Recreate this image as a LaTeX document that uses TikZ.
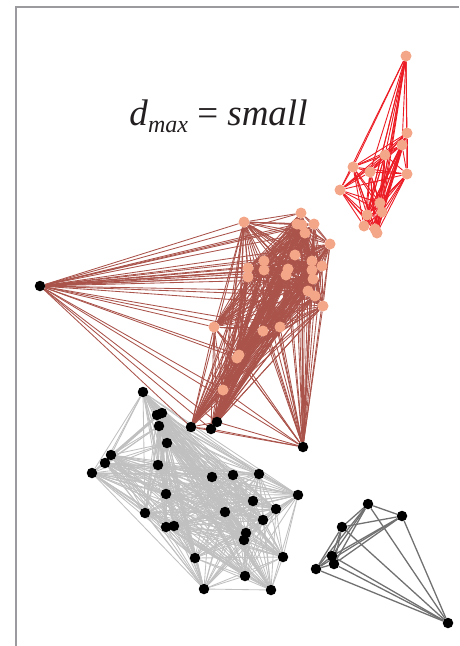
\documentclass[tikz,border=0pt]{standalone}
\usepackage{fontspec}
\setmainfont{Liberation Serif}
\usepackage{xcolor}
\usetikzlibrary{backgrounds}
\definecolor{frameline}{HTML}{9B9B9F}
\definecolor{redlink}{HTML}{EC1C24}
\definecolor{salmon}{HTML}{F4A688}
\definecolor{brownlink}{HTML}{A9534A}
\definecolor{lightlink}{HTML}{C0C0C0}
\definecolor{darklink}{HTML}{717171}
\definecolor{ink}{HTML}{231F20}

\begin{document}
\begin{tikzpicture}[x=1pt, y=-1pt]

\tikzset{
  pinkdot/.style={circle, fill=salmon, inner sep=0pt, minimum size=11pt},
  blackdot/.style={circle, fill=black, inner sep=0pt, minimum size=10.5pt},
  redlk/.style={draw=redlink, line width=0.9pt},
  brownlk/.style={draw=brownlink, line width=0.85pt},
  lightlk/.style={draw=lightlink, line width=0.85pt},
  darklk/.style={draw=darklink, line width=1.3pt},
  title/.style={font=\fontsize{37}{41}\selectfont, text=ink, anchor=base, inner sep=0pt}}

\useasboundingbox (0,0) rectangle (459,646);

% frame (only its left and top edges fall inside the page)
\draw[frameline, line width=2pt] (16,646) -- (16,7) -- (459,7);

% label
\node[title] (lbl) at (218.5,125)
  {\textit{d}\raisebox{-7pt}{\fontsize{24}{26}\selectfont\itshape max} = \textit{small}};

% cluster 1: red (small, top right)
\foreach \n/\x/\y in {1/406/56, 2/407/133, 3/402/145, 4/385/155, 5/353/167,
    6/370/172, 7/407/174, 8/340/190, 9/380/203, 10/382/212, 11/367/215,
    12/364/226, 13/375/229, 14/377/233}
  \node[pinkdot] (r\n) at (\x,\y) {};

% cluster 2: brown (pink members, then black members)
\foreach \n/\x/\y in {1/244/222, 2/301/213, 3/297/224, 4/302/225, 5/314/224,
    6/305/233, 7/330/244, 8/295/255, 9/264/261, 10/264/270, 11/248/268,
    12/248/277, 13/288/269, 14/286/275, 15/312/261, 16/322/266, 17/312/270,
    18/313/279, 19/308/291, 20/315/296, 21/323/306, 22/214/327, 23/263/331,
    24/280/327, 25/239/355, 26/237/358, 27/223/390}
  \node[pinkdot] (b\n) at (\x,\y) {};
\foreach \n/\x/\y in {28/40/286, 29/191/427, 30/211/429, 31/217/422, 32/303/447}
  \node[blackdot] (b\n) at (\x,\y) {};

% cluster 3: light grey
\foreach \n/\x/\y in {1/143/392, 2/157/415, 3/162/413, 4/159/426, 5/167/443,
    6/111/455, 7/105/463, 8/92/473, 9/158/465, 10/212/477, 11/233/475,
    12/259/474, 13/298/495, 14/166/494, 15/253/501, 16/276/509, 17/225/512,
    18/263/520, 19/145/513, 20/166/527, 21/174/526, 22/246/533, 23/244/540,
    24/195/558, 25/283/557, 26/245/576, 27/204/589, 28/271/590}
  \node[blackdot] (g\n) at (\x,\y) {};

% cluster 4: dark grey
\foreach \n/\x/\y in {1/368/504, 2/402/516, 3/342/527, 4/332/556, 5/334/564,
    6/316/569, 7/448/623}
  \node[blackdot] (k\n) at (\x,\y) {};

% all-pairs links, kept behind the dots
\begin{scope}[on background layer]
  \foreach \i in {1,...,28}{
    \foreach \j in {1,...,28}{
      \ifnum\i<\j \draw[lightlk] (g\i) -- (g\j); \fi}}
  \foreach \i in {1,...,32}{
    \foreach \j in {1,...,32}{
      \ifnum\i<\j \draw[brownlk] (b\i) -- (b\j); \fi}}
  \foreach \i in {1,...,14}{
    \foreach \j in {1,...,14}{
      \ifnum\i<\j \draw[redlk] (r\i) -- (r\j); \fi}}
  \foreach \i in {1,...,7}{
    \foreach \j in {1,...,7}{
      \ifnum\i<\j \draw[darklk] (k\i) -- (k\j); \fi}}
\end{scope}

\end{tikzpicture}
\end{document}
